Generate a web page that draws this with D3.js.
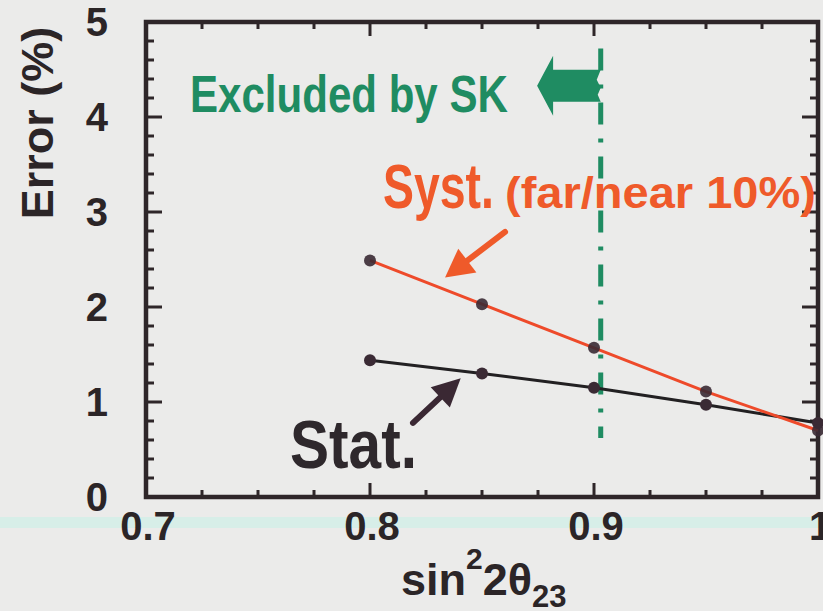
<!DOCTYPE html>
<html>
<head>
<meta charset="utf-8">
<script src="https://cdn.jsdelivr.net/npm/d3@7"></script>
<style>
  html, body { margin: 0; padding: 0; background: #ebebea; }
  svg { display: block; }
</style>
</head>
<body>
<svg id="chart" width="823" height="611"></svg>
<script>
// sin^2(2θ23) sample points and the relative errors at each
const mixing = [0.80, 0.85, 0.90, 0.95, 1.00];
const systErr = [2.49, 2.03, 1.57, 1.11, 0.70];
const statErr = [1.44, 1.30, 1.15, 0.97, 0.78];

// axis ticks
const xMajorTicks = [0.7, 0.8, 0.9, 1.0];
const xTickLabels = ["0.7", "0.8", "0.9", "1"];
const yMajorTicks = [0, 1, 2, 3, 4, 5];

// Super-K exclusion boundary
const skLimit = 0.903;

const svg = d3.select("#chart");
const W = 823, H = 611;

svg.append("rect").attr("width", W).attr("height", H).attr("fill", "#ebebea");
// faint cyan band running across the sheet
svg.append("rect").attr("x", 0).attr("y", 517).attr("width", W).attr("height", 11)
  .attr("fill", "#d3eee7").attr("opacity", 0.85);

const x = d3.scaleLinear().domain([0.7, 1.0]).range([146, 818]);
const y = d3.scaleLinear().domain([0, 5]).range([497, 22]);

const axisColor = "#2e2629";
const g = svg.append("g");

// minor/major ticks on all four sides, pointing inward
const xMinor = d3.range(0.7, 1.0001, 0.025).map(v => +v.toFixed(3));
const yMinor = d3.range(0, 5.0001, 0.2).map(v => +v.toFixed(2));
const isMajorX = v => xMajorTicks.some(m => Math.abs(m - v) < 1e-6);
const isMajorY = v => yMajorTicks.some(m => Math.abs(m - v) < 1e-6);

xMinor.forEach(v => {
  const len = isMajorX(v) ? 14 : 7;
  g.append("line").attr("x1", x(v)).attr("x2", x(v)).attr("y1", y(0)).attr("y2", y(0) - len)
    .attr("stroke", axisColor).attr("stroke-width", 3);
  g.append("line").attr("x1", x(v)).attr("x2", x(v)).attr("y1", y(5)).attr("y2", y(5) + len)
    .attr("stroke", axisColor).attr("stroke-width", 3);
});
yMinor.forEach(v => {
  const len = isMajorY(v) ? 16 : 8;
  g.append("line").attr("x1", x(0.7)).attr("x2", x(0.7) + len).attr("y1", y(v)).attr("y2", y(v))
    .attr("stroke", axisColor).attr("stroke-width", 3);
  g.append("line").attr("x1", x(1.0)).attr("x2", x(1.0) - len).attr("y1", y(v)).attr("y2", y(v))
    .attr("stroke", axisColor).attr("stroke-width", 3);
});

// frame
g.append("rect").attr("x", x(0.7)).attr("y", y(5))
  .attr("width", x(1.0) - x(0.7)).attr("height", y(0) - y(5))
  .attr("fill", "none").attr("stroke", axisColor).attr("stroke-width", 4.5);

// tick labels
const tickFont = "'Liberation Sans', Arial, sans-serif";
g.selectAll(".ylab").data(yMajorTicks).join("text")
  .attr("x", 108).attr("y", d => y(d))
  .attr("dy", "0.36em").attr("text-anchor", "end")
  .attr("font-family", tickFont).attr("font-weight", "bold").attr("font-size", 40)
  .attr("fill", "#2b2527").text(d => d);

g.selectAll(".xlab").data(xMajorTicks).join("text")
  .attr("x", d => x(d) + 2)
  .attr("y", 540)
  .attr("text-anchor", "middle")
  .attr("font-family", tickFont).attr("font-weight", "bold").attr("font-size", 40)
  .attr("fill", "#2b2527").text((d, i) => xTickLabels[i]);

// axis titles
svg.append("text")
  .attr("transform", "translate(53,123) rotate(-90)")
  .attr("text-anchor", "middle")
  .attr("font-family", tickFont).attr("font-weight", "bold").attr("font-size", 45)
  .attr("fill", "#2b2527").text("Error (%)");

const xt = svg.append("text").attr("x", 401).attr("y", 595)
  .attr("font-family", tickFont).attr("font-weight", "bold").attr("font-size", 45)
  .attr("fill", "#2b2527");
xt.append("tspan").text("sin");
xt.append("tspan").attr("font-size", 30).attr("dy", -26).text("2");
xt.append("tspan").attr("dy", 26).text("2θ");
xt.append("tspan").attr("font-size", 31).attr("dy", 12).text("23");

// exclusion boundary: dash-dot vertical line
const green = "#1f8c62";
svg.append("line")
  .attr("x1", x(skLimit)).attr("x2", x(skLimit))
  .attr("y1", y(4.72)).attr("y2", y(0.62))
  .attr("stroke", green).attr("stroke-width", 5)
  .attr("stroke-dasharray", "22,14,4,14");

// arrow pointing into the excluded region
const ay = y(4.33);
const tipX = x(0.8746), backX = tipX + 16, tailX = x(skLimit);
svg.append("path")
  .attr("d", `M${tipX},${ay} L${backX},${ay - 30} L${backX},${ay - 16} L${tailX},${ay - 16}
              L${tailX - 4},${ay - 6} L${tailX},${ay + 2} L${tailX - 3},${ay + 9} L${tailX},${ay + 16}
              L${backX},${ay + 16} L${backX},${ay + 30} Z`)
  .attr("fill", green);

// condensed gothic look: bold sans squeezed horizontally to a target width
const labelFont = "'Liberation Sans', Arial, sans-serif";
function condensed(str, left, baseline, size, width, color) {
  const t = svg.append("text").attr("x", 0).attr("y", 0)
    .attr("font-family", labelFont).attr("font-weight", "bold").attr("font-size", size)
    .attr("fill", color).text(str);
  const natural = t.node().getComputedTextLength();
  t.attr("transform", `translate(${left},${baseline}) scale(${width / natural},1)`);
  return t;
}
condensed("Excluded by SK", 190, 112, 52, 318, green);

// error curves
const line = d3.line().x(d => x(d[0])).y(d => y(d[1]));
const systColor = "#ee4a2a";
const statColor = "#222022";

svg.append("path").datum(mixing.map((m, i) => [m, statErr[i]]))
  .attr("d", line).attr("fill", "none").attr("stroke", statColor).attr("stroke-width", 3);
svg.append("path").datum(mixing.map((m, i) => [m, systErr[i]]))
  .attr("d", line).attr("fill", "none").attr("stroke", systColor).attr("stroke-width", 3);

const markerColor = "#3a2a34";
svg.selectAll(".ms").data(mixing.map((m, i) => [m, statErr[i]])).join("circle")
  .attr("cx", d => x(d[0])).attr("cy", d => y(d[1])).attr("r", 6).attr("fill", markerColor);
svg.selectAll(".my").data(mixing.map((m, i) => [m, systErr[i]])).join("circle")
  .attr("cx", d => x(d[0])).attr("cy", d => y(d[1])).attr("r", 6).attr("fill", markerColor)
  .attr("opacity", 0.9);

// labels with pointer arrows
function pointer(from, to, color, width, headLen, headW) {
  const x1 = x(from[0]), y1 = y(from[1]), x2 = x(to[0]), y2 = y(to[1]);
  const ang = Math.atan2(y2 - y1, x2 - x1);
  const bx = x2 - headLen * Math.cos(ang), by = y2 - headLen * Math.sin(ang);
  svg.append("line").attr("x1", x1).attr("y1", y1).attr("x2", bx).attr("y2", by)
    .attr("stroke", color).attr("stroke-width", width).attr("stroke-linecap", "round");
  const px = -Math.sin(ang) * headW / 2, py = Math.cos(ang) * headW / 2;
  svg.append("path")
    .attr("d", `M${x2},${y2} L${bx + px},${by + py} L${bx - px},${by - py} Z`)
    .attr("fill", color);
}
pointer([0.8603, 2.79], [0.8335, 2.31], "#ef5a2a", 6, 28, 30);
pointer([0.8192, 0.78], [0.8405, 1.25], "#3a2833", 6, 28, 28);

condensed("Syst.", 383, 208, 63, 111, "#ef5a2a");
condensed("(far/near 10%)", 505, 208, 45, 311, "#ef5a2a");
condensed("Stat.", 290, 468, 69, 127, "#2e282c");
</script>
</body>
</html>
